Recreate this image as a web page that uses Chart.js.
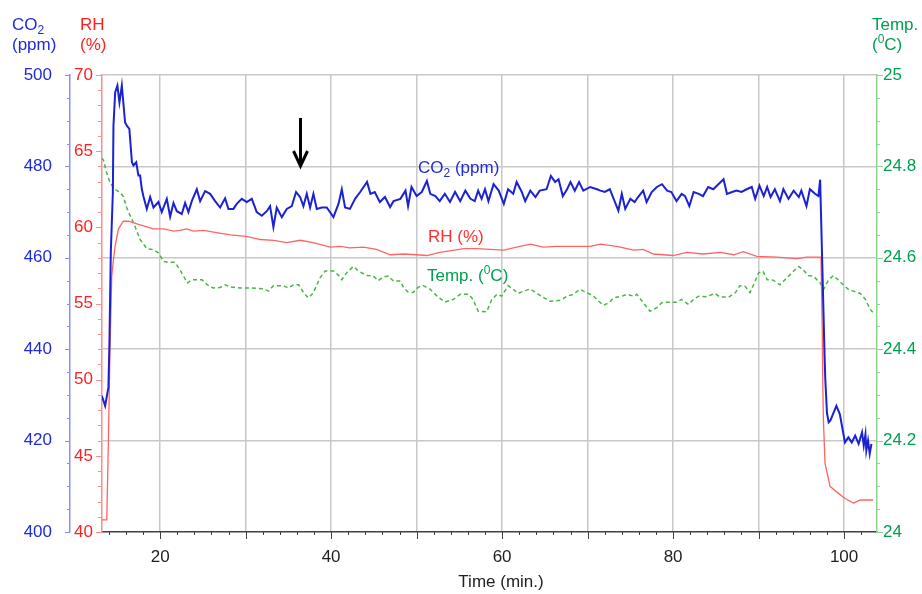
<!DOCTYPE html>
<html>
<head>
<meta charset="utf-8">
<title>CO2, RH and temperature over time</title>
<script src="https://cdn.jsdelivr.net/npm/chart.js@4.4.1/dist/chart.umd.min.js"></script>
<style>
  html, body { margin: 0; padding: 0; background: #fff; }
</style>
</head>
<body>
<canvas id="chart" width="922" height="594"></canvas>
<script>
// tick labels
const timeTicks = [20, 40, 60, 80, 100];
const co2Ticks = [400, 420, 440, 460, 480, 500];
const rhTicks = [40, 45, 50, 55, 60, 65, 70];
const tempTicks = [24, 24.2, 24.4, 24.6, 24.8, 25];

// CO2 (ppm)
const co2Time = [13.18, 13.57, 13.95, 14.07, 14.23, 14.47, 14.54, 14.74, 15.0, 15.24, 15.52, 15.9, 16.1, 16.4, 16.7, 16.88, 17.2, 17.46, 17.66, 17.86,
  18.05, 18.44, 18.83, 19.22, 19.8, 20.19, 20.78, 21.17, 21.56, 21.95, 22.53, 22.92, 23.31, 23.7, 24.29, 24.68, 25.26, 25.85, 26.43, 27.02,
  27.6, 27.99, 28.57, 28.96, 29.55, 30.13, 30.72, 31.3, 31.89, 32.47, 32.86, 33.25, 33.64, 34.23, 34.81, 35.4, 35.9, 36.37, 36.76, 37.15,
  37.54, 37.93, 38.32, 38.91, 39.49, 40.27, 40.86, 41.25, 41.63, 42.2, 42.8, 43.4, 43.8, 44.2, 44.6, 45.1, 45.7, 46.3, 46.9, 47.3,
  48.1, 48.7, 49.0, 49.4, 50.0, 50.6, 51.2, 51.6, 52.2, 52.7, 53.3, 53.9, 54.5, 55.1, 55.7, 56.3, 56.8, 57.2, 57.6, 58.0,
  58.4, 59.0, 59.6, 60.2, 60.7, 61.3, 61.7, 62.3, 62.7, 63.3, 63.9, 64.4, 65.2, 65.7, 66.2, 66.6, 67.1, 67.6, 68.0, 68.5,
  69.0, 69.5, 70.3, 71.1, 71.5, 72.0, 72.6, 73.2, 73.6, 74.0, 74.4, 75.0, 75.5, 75.9, 76.5, 76.9, 77.5, 78.1, 78.7, 79.3,
  79.8, 80.4, 81.0, 81.4, 81.9, 82.4, 83.0, 83.5, 84.1, 84.7, 85.3, 85.9, 86.3, 86.9, 87.4, 88.0, 88.6, 89.2, 89.6, 90.1,
  90.6, 91.0, 91.4, 91.9, 92.5, 92.9, 93.5, 94.1, 94.7, 95.0, 95.6, 96.0, 96.6, 97.0, 97.2, 97.7, 97.8, 98.0, 98.2, 98.4,
  99.1, 99.5, 100.1, 100.5, 100.9, 101.3, 101.7, 102.1, 102.3, 102.5, 102.6, 102.8, 103.0, 103.2];
const co2Ppm = [429.8, 427.6, 431.7, 441.5, 461.2, 474.3, 488.9, 496.2, 497.7, 494.0, 497.7, 489.6, 488.9, 488.2, 480.9, 480.2, 480.9, 478.0, 478.0, 475.0,
  473.4, 470.7, 473.3, 471.0, 472.2, 470.0, 472.9, 469.0, 472.0, 470.2, 469.6, 472.0, 470.0, 472.4, 475.0, 472.4, 474.6, 474.0, 472.4, 471.0,
  473.0, 470.7, 470.7, 471.8, 472.9, 472.2, 472.9, 470.0, 469.2, 470.2, 471.3, 466.7, 471.0, 468.9, 470.7, 471.3, 474.4, 473.3, 471.3, 474.0,
  471.0, 474.0, 470.7, 471.0, 471.0, 468.9, 471.8, 475.0, 471.0, 470.7, 472.9, 474.4, 475.5, 476.6, 474.0, 474.4, 472.2, 473.3, 471.1, 472.4,
  472.9, 474.7, 471.3, 475.5, 473.5, 474.4, 476.8, 474.0, 473.5, 472.4, 474.0, 472.2, 474.4, 472.4, 474.7, 472.9, 472.4, 474.7, 472.9, 475.0,
  472.4, 476.1, 474.7, 471.8, 475.0, 474.0, 476.6, 474.4, 472.4, 474.7, 473.3, 474.7, 475.0, 477.9, 476.6, 477.2, 473.5, 475.0, 476.6, 474.7,
  476.6, 474.7, 475.5, 475.0, 474.7, 474.4, 475.0, 472.2, 470.3, 474.0, 470.7, 472.9, 472.2, 473.3, 474.7, 472.2, 474.4, 475.5, 476.1, 474.7,
  474.4, 472.4, 474.0, 473.5, 471.3, 474.4, 474.0, 473.5, 475.5, 475.0, 476.1, 477.2, 474.0, 474.4, 474.7, 474.4, 475.0, 475.5, 472.9, 475.8,
  473.5, 475.5, 473.3, 475.0, 472.4, 475.0, 472.9, 474.7, 473.3, 474.7, 471.3, 475.0, 474.0, 473.5, 477.1, 440.0, 433.5, 426.0, 424.0, 424.4,
  427.6, 425.8, 419.6, 420.7, 419.6, 421.1, 419.3, 421.8, 418.9, 421.4, 417.8, 420.0, 417.1, 419.3];

// RH (%)
const rhTime = [13.18, 13.76, 13.95, 14.15, 14.34, 14.54, 14.74, 15.13, 15.7, 16.3, 16.9, 18.05, 19.2, 20.4, 21.6, 22.3, 23.1, 23.9, 25.1, 26.6,
  28.2, 30.1, 31.7, 33.3, 34.8, 36.4, 37.9, 39.9, 41.1, 42.2, 43.8, 45.3, 46.9, 48.5, 50.0, 51.2, 52.7, 53.9, 55.5, 57.0,
  58.6, 60.2, 61.7, 63.3, 64.8, 66.4, 67.9, 70.3, 71.5, 73.4, 75.4, 76.5, 77.7, 80.0, 81.6, 83.5, 85.5, 87.1, 88.2, 89.8,
  92.1, 94.5, 95.6, 97.3, 97.45, 97.5, 97.58, 97.77, 98.36, 99.1, 100.1, 101.1, 101.9, 103.4];
const rhPercent = [40.8, 40.8, 46.0, 52.4, 56.8, 57.9, 58.8, 59.9, 60.4, 60.4, 60.3, 60.1, 59.9, 59.9, 59.75, 59.8, 59.9, 59.75, 59.8, 59.65,
  59.5, 59.4, 59.2, 59.15, 59.0, 59.15, 59.0, 58.7, 58.75, 58.65, 58.7, 58.55, 58.2, 58.25, 58.2, 58.15, 58.35, 58.45, 58.6, 58.6,
  58.55, 58.5, 58.7, 58.9, 58.7, 58.75, 58.75, 58.75, 58.9, 58.75, 58.5, 58.55, 58.25, 58.15, 58.35, 58.25, 58.35, 58.2, 58.4, 58.1,
  58.05, 57.95, 58.05, 58.05, 53.0, 50.0, 47.4, 44.5, 43.0, 42.65, 42.2, 41.9, 42.1, 42.1];

// Temperature (°C)
const tempTime = [13.18, 13.37, 13.76, 14.15, 14.7, 15.3, 15.7, 16.1, 16.9, 17.66, 18.44, 19.2, 19.8, 20.4, 21.0, 21.75, 22.3, 23.2, 23.7, 24.9,
  25.5, 26.2, 27.0, 27.6, 28.2, 29.4, 30.5, 32.1, 32.7, 33.25, 34.4, 35.0, 35.6, 36.2, 36.8, 37.35, 37.9, 38.7, 39.3, 40.3,
  40.9, 41.25, 41.8, 42.6, 43.2, 44.2, 44.95, 45.5, 46.1, 46.7, 47.3, 48.1, 48.5, 49.0, 49.6, 50.2, 50.8, 51.6, 52.4, 53.3,
  54.3, 55.1, 56.1, 56.6, 57.2, 58.2, 58.8, 59.4, 59.96, 60.7, 61.3, 61.9, 62.5, 63.3, 63.9, 64.6, 65.6, 66.8, 67.6, 68.3,
  69.1, 69.9, 70.7, 71.3, 71.85, 72.6, 73.0, 74.0, 74.6, 75.4, 75.75, 76.5, 77.3, 78.1, 78.7, 79.3, 80.4, 81.0, 81.8, 82.4,
  83.0, 83.9, 84.9, 85.5, 86.5, 87.3, 87.8, 88.4, 89.0, 89.6, 90.0, 90.5, 91.0, 91.7, 92.5, 93.3, 94.1, 94.7, 95.2, 95.8,
  96.4, 97.2, 97.6, 98.2, 98.75, 99.3, 99.9, 100.5, 101.1, 101.9, 102.5, 103.05, 103.4];
const tempC = [24.818, 24.814, 24.785, 24.764, 24.75, 24.743, 24.734, 24.709, 24.676, 24.64, 24.62, 24.618, 24.611, 24.592, 24.59, 24.59, 24.574, 24.545, 24.552, 24.552,
  24.541, 24.534, 24.535, 24.541, 24.536, 24.534, 24.534, 24.532, 24.527, 24.539, 24.539, 24.534, 24.541, 24.541, 24.523, 24.512, 24.523, 24.556, 24.571, 24.571,
  24.561, 24.552, 24.567, 24.581, 24.571, 24.561, 24.56, 24.55, 24.558, 24.56, 24.549, 24.549, 24.534, 24.525, 24.524, 24.536, 24.539, 24.531, 24.516, 24.503,
  24.509, 24.52, 24.52, 24.509, 24.483, 24.482, 24.509, 24.52, 24.516, 24.539, 24.531, 24.522, 24.527, 24.532, 24.524, 24.516, 24.505, 24.507, 24.516, 24.52,
  24.531, 24.524, 24.516, 24.505, 24.496, 24.503, 24.512, 24.516, 24.52, 24.516, 24.52, 24.502, 24.483, 24.491, 24.502, 24.503, 24.503, 24.509, 24.498, 24.509,
  24.516, 24.515, 24.522, 24.514, 24.514, 24.524, 24.539, 24.538, 24.524, 24.549, 24.567, 24.571, 24.552, 24.551, 24.541, 24.556, 24.571, 24.581, 24.574, 24.561,
  24.56, 24.545, 24.531, 24.552, 24.561, 24.552, 24.541, 24.531, 24.527, 24.522, 24.509, 24.487, 24.48];

const FONT = '"Liberation Sans", Arial, sans-serif';
const BLUE = '#1f2bd6', RED = '#ff2020', GREEN = '#00a050';
const GRID = '#c8c8c8';

const toPoints = (xs, ys) => xs.map((x, i) => ({ x: x, y: ys[i] }));
const isTick = (list, v) => list.some(t => Math.abs(t - v) < 1e-6);

// draws text made of pieces (for sub/superscripts)
function richText(ctx, parts, x, y, color) {
  ctx.fillStyle = color;
  ctx.textAlign = 'left';
  ctx.textBaseline = 'alphabetic';
  let cx = x;
  for (const p of parts) {
    ctx.font = (p.size || 17) + 'px ' + FONT;
    ctx.fillText(p.t, cx, y + (p.dy || 0));
    cx += ctx.measureText(p.t).width;
  }
}

function tickLine(ctx, x1, y1, x2, y2) {
  ctx.beginPath();
  ctx.moveTo(x1, y1);
  ctx.lineTo(x2, y2);
  ctx.stroke();
}

const decor = {
  id: 'decor',
  afterDraw(chart) {
    const ctx = chart.ctx;
    const { x, co2, rh, temp } = chart.scales;
    ctx.save();
    ctx.lineWidth = 1;

    // tick marks, minor and major
    ctx.strokeStyle = '#404040';
    for (let t = 14; t <= 102; t += 2) {
      const px = Math.round(x.getPixelForValue(t)) + 0.5;
      tickLine(ctx, px, x.top, px, x.top + (t % 10 === 0 ? 7 : 3));
    }
    ctx.strokeStyle = '#8c8cff';
    for (let v = 400; v <= 500; v += 5) {
      const py = Math.round(co2.getPixelForValue(v)) + 0.5;
      tickLine(ctx, co2.right, py, co2.right - (isTick(co2Ticks, v) ? 5 : 3), py);
    }
    ctx.strokeStyle = '#ff8c8c';
    for (let v = 40; v <= 70; v += 1) {
      const py = Math.round(rh.getPixelForValue(v)) + 0.5;
      tickLine(ctx, rh.right, py, rh.right - (isTick(rhTicks, v) ? 6 : 4), py);
    }
    ctx.strokeStyle = '#8cd68c';
    for (let i = 0; i <= 20; i++) {
      const v = 24 + i * 0.05;
      const py = Math.round(temp.getPixelForValue(v)) + 0.5;
      tickLine(ctx, temp.left, py, temp.left + (isTick(tempTicks, v) ? 6 : 3), py);
    }

    // axis units on top
    richText(ctx, [{ t: 'CO' }, { t: '2', size: 12, dy: 4 }], 12, 29.5, BLUE);
    richText(ctx, [{ t: '(ppm)' }], 12, 49.5, BLUE);
    richText(ctx, [{ t: 'RH' }], 80, 29.5, RED);
    richText(ctx, [{ t: '(%)' }], 80, 49.5, RED);
    richText(ctx, [{ t: 'Temp.' }], 872, 29.5, GREEN);
    richText(ctx, [{ t: '(' }, { t: '0', size: 12, dy: -7 }, { t: 'C)' }], 872, 49.5, GREEN);

    // series names inside the plot
    richText(ctx, [{ t: 'CO' }, { t: '2', size: 12, dy: 4 }, { t: ' (ppm)' }], 418, 173, BLUE);
    richText(ctx, [{ t: 'RH (%)' }], 428, 241.5, '#ff3030');
    richText(ctx, [{ t: 'Temp. (' }, { t: '0', size: 12, dy: -7 }, { t: 'C)' }], 427, 281, GREEN);

    // x title
    ctx.font = '17px ' + FONT;
    ctx.fillStyle = '#222';
    ctx.textAlign = 'center';
    ctx.fillText('Time (min.)', 501, 587);

    // arrow
    const ax = Math.round(x.getPixelForValue(36.4)) + 0.5;
    ctx.strokeStyle = '#000';
    ctx.lineWidth = 3;
    tickLine(ctx, ax, 118, ax, 163);
    ctx.beginPath();
    ctx.moveTo(ax - 7, 151);
    ctx.lineTo(ax, 166);
    ctx.lineTo(ax + 7, 151);
    ctx.stroke();
    ctx.restore();
  }
};

const tickFont = { family: FONT, size: 17 };

new Chart(document.getElementById('chart'), {
  type: 'line',
  data: {
    datasets: [
      { label: 'CO2 (ppm)', data: toPoints(co2Time, co2Ppm), yAxisID: 'co2',
        borderColor: '#1a22d2', borderWidth: 2, pointRadius: 0, tension: 0 },
      { label: 'RH (%)', data: toPoints(rhTime, rhPercent), yAxisID: 'rh',
        borderColor: '#ff6464', borderWidth: 1.3, pointRadius: 0, tension: 0 },
      { label: 'Temp. (°C)', data: toPoints(tempTime, tempC), yAxisID: 'temp',
        borderColor: '#44b844', borderWidth: 1.5, borderDash: [4, 3], pointRadius: 0, tension: 0 }
    ]
  },
  options: {
    responsive: false,
    animation: false,
    layout: { padding: { top: 75, left: 0, right: 0, bottom: 0 } },
    plugins: { legend: { display: false }, tooltip: { enabled: false } },
    scales: {
      x: {
        type: 'linear', min: 13.2, max: 103.85,
        afterFit: s => { s.height = 62; },
        grid: { color: c => (c.tick && c.tick.value % 10 === 0) ? GRID : 'transparent', lineWidth: 1.5, drawTicks: false },
        border: { color: '#404040', width: 1.5 },
        ticks: { stepSize: 2, autoSkip: false, maxRotation: 0, padding: 15, color: '#222', font: tickFont,
          callback: v => isTick(timeTicks, v) ? String(v) : '' }
      },
      co2: {
        position: 'left', weight: 1, min: 400, max: 500,
        afterFit: s => { s.width = 70; },
        grid: { color: c => (c.tick && isTick(co2Ticks, c.tick.value) && c.tick.value !== 400) ? GRID : 'transparent', lineWidth: 1.5, drawTicks: false },
        border: { color: '#8c8cff', width: 1.5 },
        ticks: { stepSize: 5, autoSkip: false, padding: 18, color: BLUE, font: tickFont,
          callback: v => isTick(co2Ticks, v) ? String(v) : '' }
      },
      rh: {
        position: 'left', weight: 0, min: 40, max: 70,
        afterFit: s => { s.width = 32; },
        grid: { drawOnChartArea: false, drawTicks: false },
        border: { color: '#ff8c8c', width: 1.5 },
        ticks: { stepSize: 1, autoSkip: false, padding: 9, color: RED, font: tickFont,
          callback: v => isTick(rhTicks, v) ? String(v) : '' }
      },
      temp: {
        position: 'right', min: 24, max: 25,
        afterFit: s => { s.width = 45; },
        grid: { drawOnChartArea: false, drawTicks: false },
        border: { color: '#8cd68c', width: 1.5 },
        ticks: { stepSize: 0.05, autoSkip: false, padding: 6, color: GREEN, font: tickFont,
          callback: v => isTick(tempTicks, v) ? String(Math.round(v * 10) / 10) : '' }
      }
    }
  },
  plugins: [decor]
});
</script>
</body>
</html>
